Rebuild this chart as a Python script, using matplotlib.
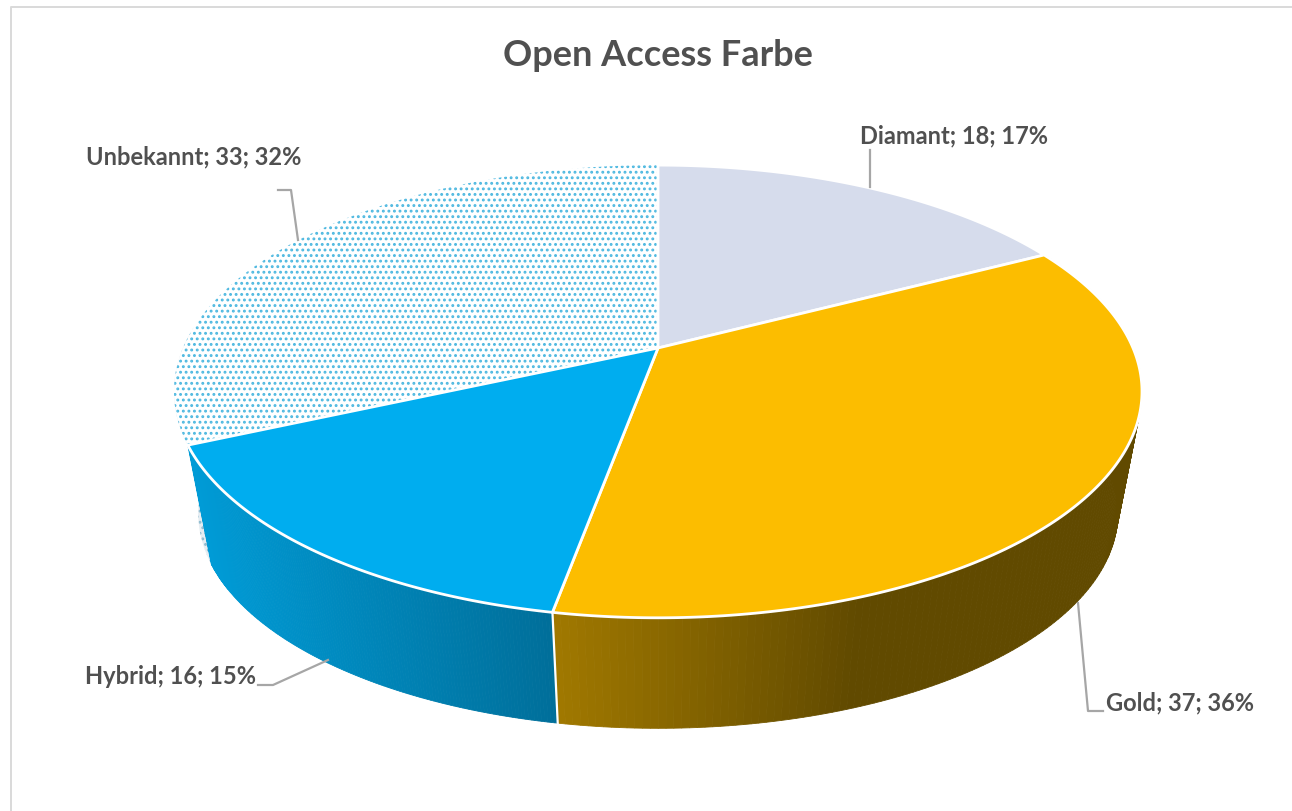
import numpy as np
from matplotlib import pyplot as plt
from matplotlib.lines import Line2D

# data
names = ["Diamant", "Gold", "Hybrid", "Unbekannt"]
values = [18, 37, 16, 33]
title = "Open Access Farbe"

# colours of the top faces
top_colors = ["#d6dcec", "#fcbd00", "#00adef", "#ffffff"]
dots_color = "#4db8e0"
text_color = "#505050"
leader_color = "#a6a6a6"

# geometry of the tilted disc, in pixels
CX, CY = 658, 348
A, B, K = 475, 218, 0.192
DEPTH, SCALE = 124, 0.95

plt.rcParams["font.family"] = ["Lato", "DejaVu Sans"]
plt.rcParams["hatch.linewidth"] = 1.3


def rim(theta, depth=0.0, scale=1.0):
    """
        Perspective projection of the circle, theta is clockwise from the top.
    """
    u, v = np.sin(theta), np.cos(theta)
    d = 1 + K * v
    return CX + scale * A * u / d, CY - scale * B * v / d + depth


def wall_color(x, stops):
    """
        Horizontal shading of the side wall, stops are (x, rgb) pairs.
    """
    xs = [s[0] for s in stops]
    rgb = [[s[1][i] for s in stops] for i in range(3)]
    return [np.interp(x, xs, c) / 255 for c in rgb]


fig = plt.figure(figsize=(12.92, 8.11), dpi=100)
ax = fig.add_axes([0, 0, 1, 1])
ax.set_xlim(0, 1292)
ax.set_ylim(811, 0)
ax.axis("off")

# slice limits from the values
shares = np.array(values) / sum(values)
edges = np.concatenate([[0], np.cumsum(shares)]) * 2 * np.pi

#========================================
#              Side walls
#========================================
gold_stops = [(556, (160, 120, 0)), (860, (97, 74, 0)), (1145, (97, 74, 0))]
hybrid_stops = [(190, (0, 155, 214)), (556, (0, 110, 153))]

# the unknown slice shows only as a thin dotted sliver left of the blue wall
t = np.linspace(edges[3], edges[3] + 0.5, 40)
x1, y1 = rim(t)
x2, y2 = rim(t, DEPTH, SCALE)
ax.fill(np.r_[x1, x2[::-1]], np.r_[y1, y2[::-1]], facecolor="#e6edf2",
        edgecolor="#8fbcd0", hatch="...", linewidth=0, zorder=1)

for i, stops in [(2, hybrid_stops), (1, gold_stops)]:
    t = np.linspace(edges[i], edges[i + 1], 161)
    for a, b in zip(t[:-1], t[1:]):
        x1, y1 = rim(np.array([a, b]))
        x2, y2 = rim(np.array([b, a]), DEPTH, SCALE)
        c = wall_color((x1[0] + x1[1]) / 2, stops)
        ax.fill(np.r_[x1, x2], np.r_[y1, y2], color=c, linewidth=0.6, zorder=2)

# white seam between the blue and the gold wall
sx1, sy1 = rim(edges[2])
sx2, sy2 = rim(edges[2], DEPTH, SCALE)
ax.plot([sx1, sx2], [sy1, sy2], color="white", linewidth=1.6, zorder=3)

#========================================
#              Top faces
#========================================
for i, name in enumerate(names):
    t = np.linspace(edges[i], edges[i + 1], 200)
    x, y = rim(t)
    xs, ys = np.r_[CX, x], np.r_[CY, y]
    if name == "Unbekannt":
        ax.fill(xs, ys, facecolor="white", edgecolor=dots_color, hatch="...",
                linewidth=0, zorder=4)
    else:
        ax.fill(xs, ys, facecolor=top_colors[i], edgecolor="white",
                linewidth=2, joinstyle="round", zorder=5)

#========================================
#           Labels and leaders
#========================================
label_xy = {"Diamant": (860, 136), "Gold": (1106, 703),
            "Hybrid": (85, 677), "Unbekannt": (86, 157)}
leaders = {"Diamant": ([870, 870], [150, 187]),
           "Gold": ([1078, 1088, 1103], [603, 711, 711]),
           "Hybrid": ([258, 273, 328], [685, 685, 660]),
           "Unbekannt": ([278, 291, 298], [190, 190, 240])}

for name, val, share in zip(names, values, shares):
    lx, ly = leaders[name]
    ax.add_line(Line2D(lx, ly, color=leader_color, linewidth=1.6, zorder=6))
    ax.text(*label_xy[name], f"{name}; {val}; {share * 100:.0f}%", ha="left", va="center",
            fontsize=17, fontweight="bold", color=text_color, zorder=7)

ax.text(658, 56, title, ha="center", va="center", fontsize=26,
        fontweight="bold", color=text_color)

# frame of the pasted chart, only top and left are visible
ax.add_line(Line2D([11, 11, 1292], [811, 6.5, 6.5], color="#d9d9d9", linewidth=1.4))

fig.savefig("out.png", dpi=100)
